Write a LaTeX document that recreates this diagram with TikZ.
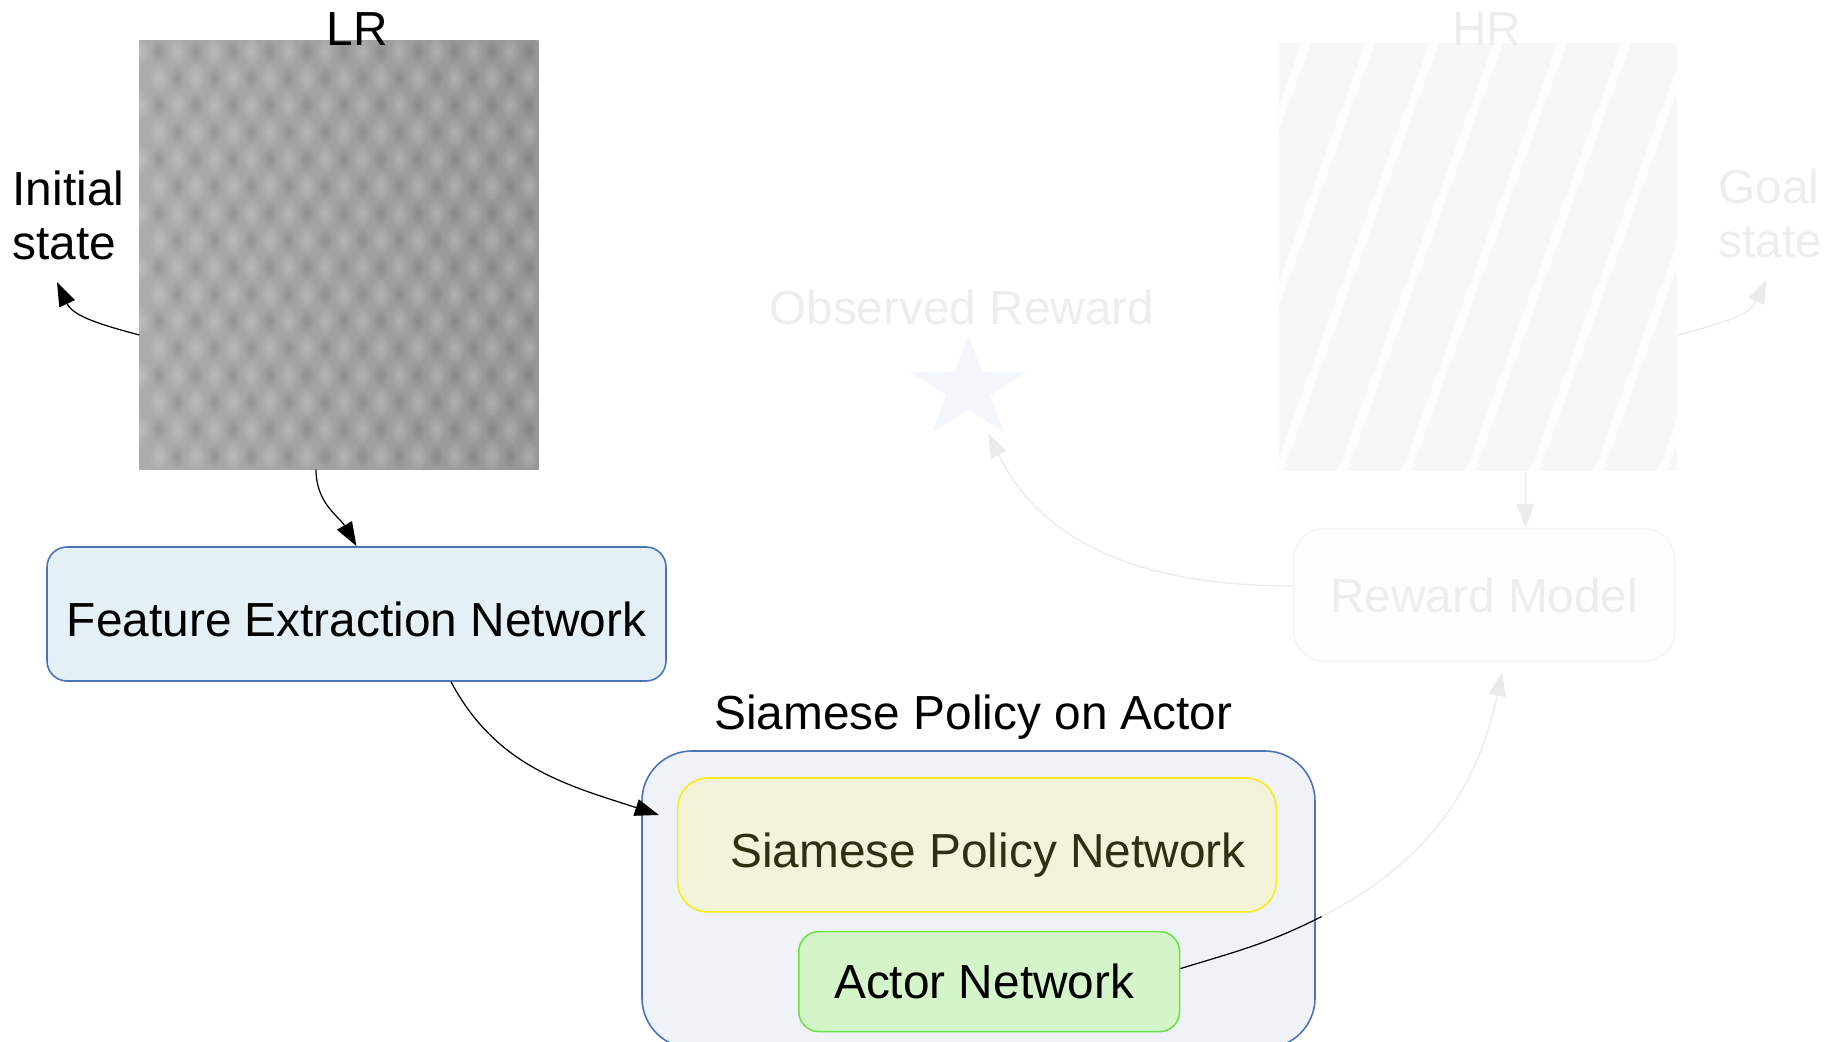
\documentclass[tikz,border=0pt]{standalone}
\usepackage{fontspec}
\setmainfont{Liberation Sans}
\usepackage{xcolor}
\usepackage{tikz}
\usetikzlibrary{positioning, arrows.meta, calc, shapes.geometric}
\definecolor{edgeblue}{RGB}{74,116,181}
\definecolor{feblue}{RGB}{228,239,246}
\definecolor{spafill}{RGB}{239,243,248}
\definecolor{spnfill}{RGB}{242,243,217}
\definecolor{spnedge}{RGB}{250,235,20}
\definecolor{spntext}{RGB}{48,48,16}
\definecolor{anfill}{RGB}{211,245,201}
\definecolor{anedge}{RGB}{110,225,70}
\definecolor{lrA}{RGB}{172,172,172}
\definecolor{lrB}{RGB}{150,150,150}
\definecolor{hrbg}{RGB}{247,247,247}
\definecolor{hrline}{RGB}{253,253,253}
\definecolor{ghosttext}{RGB}{237,237,237}
\definecolor{ghostline}{RGB}{234,234,234}
\definecolor{ghostedge}{RGB}{244,245,245}
\definecolor{ghostfill}{RGB}{253,254,254}
\definecolor{starfill}{RGB}{243,246,250}

\begin{document}
\begin{tikzpicture}[
  font=\fontsize{13.6pt}{15.4pt}\selectfont,
  net/.style={draw=edgeblue, line width=0.45pt, inner sep=0pt},
  pic/.style={minimum width=3.98cm, minimum height=4.28cm, inner sep=0pt},
  flow/.style={line width=0.35pt, -{Triangle[length=2.4mm, width=1.7mm]}},
  gflow/.style={flow, ghostline}]
\useasboundingbox (0,0) rectangle (18.26,10.42);

\node[pic, fill=lrA] (lr) at (3.39,7.87) {};
\begin{scope}
  \clip (lr.south west) rectangle (lr.north east);
  \shade[left color=lrA, right color=lrB] (lr.south west) rectangle (lr.north east);
  \foreach \i in {0,...,10}
    \foreach \j in {0,...,16} {
      \pgfmathtruncatemacro\p{100-9*\i}
      \pgfmathsetmacro\xx{1.40+0.37*\i+0.185*mod(\j,2)}
      \pgfmathsetmacro\yy{9.91-0.27*\j}
      \shade[inner color=lrA!\p!lrB!80!white, outer color=lrA!\p!lrB] (\xx,\yy) ellipse (0.095 and 0.15);
      \shade[inner color=lrA!\p!lrB!87!black, outer color=lrA!\p!lrB] (\xx+0.185,\yy) ellipse (0.09 and 0.14);
    }
\end{scope}
\node (lrt) at (3.575,10.13) {LR};
\node[align=left, inner sep=0pt, anchor=west] (init) at (0.12,8.27) {Initial\\state};
\coordinate (initp) at (0.57,7.60);
\draw[flow] ([yshift=-8mm]lr.west) to[out=165, in=-65] (initp);

\node[net, fill=feblue, rounded corners=0.2cm, minimum width=6.19cm, minimum height=1.34cm,
  label={[yshift=-0.5mm]center:Feature Extraction Network}] (fen) at (3.565,4.28) {};
\draw[flow] ([xshift=-2.3mm]lr.south) to[out=-90, in=120] (fen.north);

\node[net, fill=spafill, rounded corners=0.5cm, minimum width=6.73cm, minimum height=2.97cm] (spa) at (9.785,1.425) {};
\node (spat) at (9.735,3.25) {Siamese Policy on Actor};
\node[draw=spnedge, fill=spnfill, line width=0.45pt, rounded corners=0.3cm, minimum width=5.986cm, minimum height=1.339cm,
  label={[text=spntext, xshift=1.1mm, yshift=-1mm]center:Siamese Policy Network}] (spn) at (9.77,1.97) {};
\node[draw=anedge, fill=anfill, line width=0.45pt, rounded corners=0.2cm, minimum width=3.808cm, minimum height=1.0cm,
  label={[xshift=-0.5mm]center:Actor Network}] (an) at (9.892,0.604) {};
\draw[flow] ([xshift=9.45mm]fen.south) to[out=-62, in=162] ([xshift=-1.8mm, yshift=3mm]spn.west);

\node[pic, fill=hrbg] (hr) at (14.78,7.85) {};
\begin{scope}
  \clip (hr.south west) rectangle (hr.north east);
  \foreach \k in {-4,...,7}
    \draw[hrline, line width=2.5pt] ([xshift=\k*0.64cm]hr.south west) -- ++(70:5);
\end{scope}
\node[text=ghosttext] (hrt) at (14.87,10.13) {HR};
\node[text=ghosttext, align=left, inner sep=0pt, anchor=west] (goal) at (17.176,8.285) {Goal\\state};
\coordinate (goalp) at (17.665,7.625);
\draw[gflow] ([yshift=-7.8mm]hr.east) to[out=15, in=-115] (goalp);

\node[draw=ghostedge, fill=ghostfill, text=ghosttext, rounded corners=0.3cm, minimum width=3.808cm, minimum height=1.327cm] (rm) at (14.842,4.47) {Reward Model};
\draw[gflow] ([xshift=4.75mm]hr.south) -- ([xshift=4.13mm]rm.north);

\node[text=ghosttext] (obs) at (9.619,7.346) {Observed Reward};
\node[star, star points=5, star point ratio=2.618, minimum size=1.076cm, inner sep=0pt, fill=starfill, xscale=1.134] (rwd) at (9.683,6.532) {};
\coordinate (rwdp) at (9.883,6.087);
\draw[gflow] ([yshift=0.9mm]rm.west) to[out=180, in=-64] (rwdp);

\coordinate (bend) at (13.217,1.255);
\draw[line width=0.35pt] ([yshift=1.3mm]an.east) to[out=17, in=207] (bend);
\draw[gflow] (bend) to[out=27, in=-102] ([xshift=1.8mm, yshift=-1mm]rm.south);
\end{tikzpicture}
\end{document}
